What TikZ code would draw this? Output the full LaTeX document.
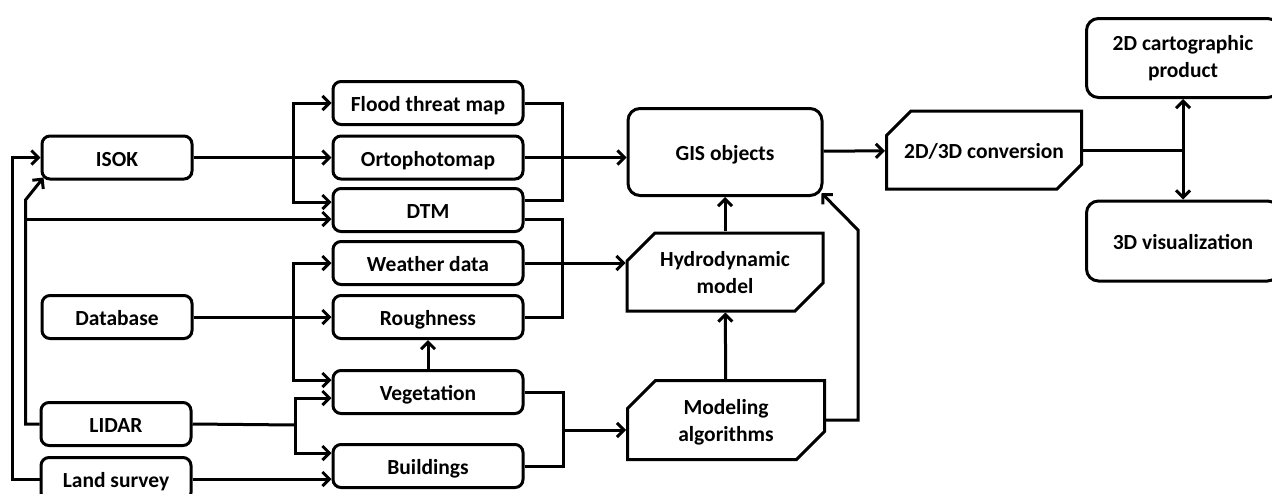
\documentclass[tikz,border=0pt]{standalone}
\usepackage{fontspec}
\setmainfont{Carlito}
\usetikzlibrary{arrows.meta, positioning, shapes.misc}
\tikzset{
  box/.style={draw, line width=3pt, rounded corners=8pt, inner sep=2pt,
             align=center, minimum height=43pt,
             font=\fontsize{21.5}{27}\selectfont\bfseries},
  bx/.style={box, text height=17pt, text depth=0pt},
  cb/.style={draw, line width=3pt, chamfered rectangle,
             chamfered rectangle corners={north west,south east},
             chamfered rectangle xsep=14pt, chamfered rectangle ysep=14pt,
             inner sep=2pt, align=center, text depth=0pt,
             font=\fontsize{21.5}{27}\selectfont\bfseries},
  ln/.style={line width=3pt},
  fl/.style={-{Straight Barb[length=7pt,width=14pt]}, line width=3pt},
  fl2/.style={{Straight Barb[length=7pt,width=14pt]}-{Straight Barb[length=7pt,width=14pt]}, line width=3pt},
}
\begin{document}
\begin{tikzpicture}[x=1pt, y=-1pt]
    \useasboundingbox (0,0) rectangle (1272,493);
    % sources
    \node[bx, minimum width=150pt] (isok) at (117,157.5) {ISOK};
    \node[bx, minimum width=150pt] (db) at (117,317) {Database};
    \node[bx, minimum width=150pt] (lidar) at (116,424) {LIDAR};
    \node[bx, minimum width=150pt] (land) at (116,479) {Land survey};
    % data layers
    \node[bx, minimum width=190pt] (flood) at (428,103) {Flood threat map};
    \node[bx, minimum width=190pt] (orto) at (428,157.5) {Ortophotomap};
    \node[bx, minimum width=190pt] (dtm) at (428,210) {DTM};
    \node[bx, minimum width=190pt] (weather) at (428,263) {Weather data};
    \node[bx, minimum width=190pt] (rough) at (428,317) {Roughness};
    \node[bx, minimum width=190pt] (veg) at (428,392) {Vegetation};
    \node[bx, minimum width=190pt] (build) at (428,466) {Buildings};
    % processing
    \node[bx, rounded corners=12pt, minimum width=194pt, minimum height=87pt] (gis) at (725,152) {GIS objects};
    \node[cb, minimum width=196pt, minimum height=78pt] (hydro) at (725,272) {Hydrodynamic\\model};
    \node[cb, minimum width=197pt, minimum height=79pt] (model) at (726,420) {Modeling\\algorithms};
    \node[cb, minimum width=195pt, minimum height=78pt, text height=17pt] (conv) at (984,150) {2D/3D conversion};
    % products
    \node[box, rounded corners=12pt, minimum width=193pt, minimum height=79pt] (carto) at (1183,58) {2D cartographic\\product};
    \node[bx, rounded corners=12pt, minimum width=193pt, minimum height=80pt] (vis) at (1183,241) {3D visualization};

    % feedback loops on the left
    \draw[fl] (land.west) -- ++(-27,0) |- (isok.west);
    \draw[fl] (lidar.west) -- ++(-14,0) |- ++(0,-224) -- ([shift={(3pt,3pt)}]isok.south west);
    \coordinate (lb) at (26,219);
    \draw[fl] (lb) -- (lb -| dtm.west);

    % sources to layers
    \coordinate (b1) at (293,157.5);
    \draw[fl] (isok) -- (orto);
    \draw[fl] (b1) |- (flood.west);
    \draw[fl] (b1) |- ([yshift=8pt]dtm.west);
    \coordinate (b2) at (293,317);
    \draw[fl] (db) -- (rough);
    \draw[fl] (b2) |- (weather.west);
    \draw[fl] (b2) |- ([yshift=12pt]veg.west);
    \coordinate (b3) at (295,425);
    \draw[ln] (lidar.east) -- (b3);
    \draw[fl] (b3) |- ([yshift=-6pt]veg.west);
    \draw[fl] (b3) |- ([yshift=13pt]build.west);
    \draw[fl] (land.east) -- (land.east -| build.west);
    \draw[fl] (veg) -- (rough);

    % layers to processing
    \coordinate (m1) at (562,158);
    \draw[ln] (flood.east) -| (m1) |- ([yshift=10pt]dtm.east);
    \draw[fl] (orto.east) -- (orto.east -| gis.west);
    \coordinate (m2) at (562,263);
    \draw[ln] ([yshift=-9pt]dtm.east) -| (m2) |- (rough.east);
    \draw[fl] (weather.east) -- (weather.east -| hydro.west);
    \coordinate (m3) at (563,430);
    \draw[ln] (veg.east) -| (m3) |- (build.east);
    \draw[fl] (m3) -- (m3 -| model.west);

    \draw[fl] (model) -- (hydro);
    \draw[fl] (hydro) -- (gis);
    \draw[fl] (model.east) -- ++(32,0) |- ++(0,-190) -- ([shift={(-2pt,4pt)}]gis.south east);
    \draw[fl] (gis) -- (conv);

    % outputs
    \draw[ln] (conv.east) -- (conv.east -| carto.south);
    \draw[fl2] (carto) -- (vis);
  \end{tikzpicture}
\end{document}
